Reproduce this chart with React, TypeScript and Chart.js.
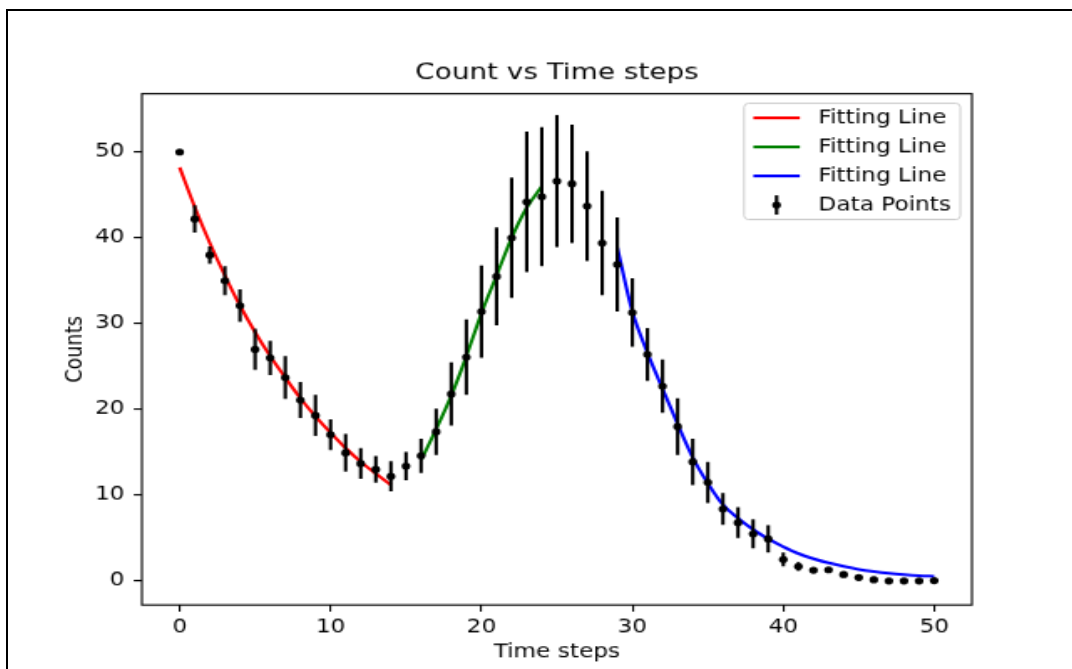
import React, { useEffect, useRef } from "react";
import { Chart, registerables } from "chart.js";

Chart.register(...registerables);

// ---------------- data ----------------
const timeSteps = [
  0, 1, 2, 3, 4, 5, 6, 7, 8, 9, 10, 11, 12, 13, 14, 15, 16, 17, 18, 19, 20,
  21, 22, 23, 24, 25, 26, 27, 28, 29, 30, 31, 32, 33, 34, 35, 36, 37, 38, 39,
  40, 41, 42, 43, 44, 45, 46, 47, 48, 49, 50,
];
const counts = [
  50.0, 42.2, 38.0, 35.0, 32.1, 27.0, 26.0, 23.7, 21.1, 19.3, 17.05, 14.95,
  13.7, 13.0, 12.2, 13.4, 14.6, 17.4, 21.8, 26.1, 31.4, 35.5, 40.0, 44.2, 44.8,
  46.6, 46.3, 43.7, 39.4, 36.9, 31.3, 26.4, 22.7, 18.0, 13.9, 11.5, 8.4, 6.8,
  5.5, 4.9, 2.5, 1.7, 1.25, 1.3, 0.75, 0.4, 0.15, 0.0, 0.0, 0.0, 0.05,
];
const countErrors = [
  0.3, 1.6, 1.0, 1.7, 1.9, 2.4, 2.0, 2.5, 2.1, 2.4, 1.8, 2.2, 1.8, 1.55, 1.75,
  1.65, 2.0, 2.7, 3.7, 4.4, 5.4, 5.7, 7.0, 8.2, 8.1, 7.7, 6.9, 6.4, 6.1, 5.5,
  4.0, 3.1, 3.1, 3.3, 2.7, 2.4, 1.85, 1.8, 1.7, 1.6, 0.8, 0.5, 0.3, 0.3, 0.2,
  0.1, 0, 0, 0, 0, 0,
];

const redFitX = [0, 1, 2, 3, 4, 5, 6, 7, 8, 9, 10, 11, 12, 13, 14];
const redFitY = [48.2, 43.6, 39.4, 35.6, 32.1, 29.0, 26.2, 23.7, 21.3, 19.2, 17.3, 15.5, 13.9, 12.5, 11.2];

const greenFitX = [16, 17, 18, 19, 20, 21, 22, 23, 24];
const greenFitY = [14.1, 17.7, 21.6, 26.2, 31.2, 35.6, 40.0, 43.5, 46.0];

const blueFitX = [29, 30, 31, 32, 33, 34, 35, 36, 37, 38, 39, 40, 41, 42, 43, 44, 45, 46, 47, 48, 49, 50];
const blueFitY = [38.9, 31.4, 26.6, 22.4, 18.3, 14.4, 11.4, 8.9, 7.3, 6.0, 4.9, 4.0, 3.2, 2.6, 2.1, 1.7, 1.35, 1.1, 0.9, 0.75, 0.63, 0.55];

const xTicks = [0, 10, 20, 30, 40, 50];
const yTicks = [0, 10, 20, 30, 40, 50];

const legendLabels = ["Fitting Line", "Fitting Line", "Fitting Line", "Data Points"];
const legendColors = ["#ff0000", "#008000", "#0000ff", "#000000"];

// ---------------- styling ----------------
const FONT = "'DejaVu Sans', 'Liberation Sans', sans-serif";
const PT = 100 / 72;
const FS = 10 * PT;
const TITLE_FS = 12 * PT;
const LW = 1.5 * PT;
const SPINE_LW = 0.8 * PT;
const POINTS_INDEX = 3;

const toXY = (xs: number[], ys: number[]) => xs.map((x, i) => ({ x, y: ys[i] }));

const errorBarPlugin = {
  id: "errorBars",
  beforeDatasetDraw(chart: any, args: any) {
    if (args.index !== POINTS_INDEX) return;
    const { ctx, chartArea: a } = chart;
    const xs = chart.scales.x;
    const ys = chart.scales.y;
    ctx.save();
    ctx.beginPath();
    ctx.rect(a.left, a.top, a.right - a.left, a.bottom - a.top);
    ctx.clip();
    ctx.strokeStyle = "#000";
    ctx.lineWidth = LW;
    ctx.beginPath();
    timeSteps.forEach((t, i) => {
      const e = countErrors[i];
      if (!e) return;
      const px = xs.getPixelForValue(t);
      ctx.moveTo(px, ys.getPixelForValue(counts[i] - e));
      ctx.lineTo(px, ys.getPixelForValue(counts[i] + e));
    });
    ctx.stroke();
    ctx.restore();
  },
};

const spinePlugin = {
  id: "spines",
  afterDatasetsDraw(chart: any) {
    const { ctx, chartArea: a } = chart;
    ctx.save();
    ctx.strokeStyle = "#000";
    ctx.lineWidth = SPINE_LW;
    ctx.strokeRect(a.left, a.top, a.right - a.left, a.bottom - a.top);
    ctx.restore();
  },
};

const legendPlugin = {
  id: "mplLegend",
  afterDraw(chart: any) {
    const { ctx, chartArea: a } = chart;
    ctx.save();
    ctx.font = `${FS}px ${FONT}`;
    const textW = Math.max(...legendLabels.map((l) => ctx.measureText(l).width));
    const pad = 0.4 * FS;
    const handleLen = 2 * FS;
    const handlePad = 0.8 * FS;
    const axPad = 0.5 * FS;
    const rowGap = 21;
    const firstRow = 10.5;
    const w = 2 * pad + handleLen + handlePad + textW;
    const h = firstRow * 2 + rowGap * (legendLabels.length - 1);
    const right = a.right - axPad;
    const left = right - w;
    const top = a.top + axPad;
    const r = 0.2 * FS;
    ctx.beginPath();
    ctx.moveTo(left + r, top);
    ctx.lineTo(right - r, top);
    ctx.quadraticCurveTo(right, top, right, top + r);
    ctx.lineTo(right, top + h - r);
    ctx.quadraticCurveTo(right, top + h, right - r, top + h);
    ctx.lineTo(left + r, top + h);
    ctx.quadraticCurveTo(left, top + h, left, top + h - r);
    ctx.lineTo(left, top + r);
    ctx.quadraticCurveTo(left, top, left + r, top);
    ctx.closePath();
    ctx.fillStyle = "rgba(255,255,255,0.8)";
    ctx.fill();
    ctx.strokeStyle = "#cccccc";
    ctx.lineWidth = 1;
    ctx.stroke();

    legendLabels.forEach((label, i) => {
      const cy = top + firstRow + i * rowGap;
      const hx = left + pad;
      if (i < 3) {
        ctx.strokeStyle = legendColors[i];
        ctx.lineWidth = LW;
        ctx.beginPath();
        ctx.moveTo(hx, cy);
        ctx.lineTo(hx + handleLen, cy);
        ctx.stroke();
      } else {
        const cx = hx + handleLen / 2;
        ctx.strokeStyle = "#000";
        ctx.lineWidth = LW;
        ctx.beginPath();
        ctx.moveTo(cx, cy - 7);
        ctx.lineTo(cx, cy + 7);
        ctx.stroke();
        ctx.fillStyle = "#000";
        ctx.beginPath();
        ctx.arc(cx, cy, 2.6, 0, Math.PI * 2);
        ctx.fill();
      }
      ctx.fillStyle = "#000";
      ctx.textAlign = "left";
      ctx.textBaseline = "middle";
      ctx.fillText(label, hx + handleLen + handlePad, cy);
    });
    ctx.restore();
  },
};

export default function App() {
  const canvasRef = useRef<HTMLCanvasElement | null>(null);

  useEffect(() => {
    if (!canvasRef.current) return;
    const tickFont = { family: FONT, size: FS };
    const gridCfg = {
      display: true,
      drawOnChartArea: false,
      drawTicks: true,
      tickLength: 3.5 * PT,
      tickWidth: SPINE_LW,
      tickColor: "#000",
      color: "#000",
      lineWidth: SPINE_LW,
    };
    const chart = new Chart(canvasRef.current, {
      type: "line",
      data: {
        datasets: [
          {
            label: "Fitting Line",
            data: toXY(redFitX, redFitY),
            borderColor: "#ff0000",
            borderWidth: LW,
            pointRadius: 0,
            cubicInterpolationMode: "monotone",
            order: 1,
          },
          {
            label: "Fitting Line",
            data: toXY(greenFitX, greenFitY),
            borderColor: "#008000",
            borderWidth: LW,
            pointRadius: 0,
            cubicInterpolationMode: "monotone",
            order: 1,
          },
          {
            label: "Fitting Line",
            data: toXY(blueFitX, blueFitY),
            borderColor: "#0000ff",
            borderWidth: LW,
            pointRadius: 0,
            cubicInterpolationMode: "monotone",
            order: 1,
          },
          {
            label: "Data Points",
            data: toXY(timeSteps, counts),
            showLine: false,
            pointRadius: 2.6,
            pointBorderWidth: 0,
            pointBackgroundColor: "#000",
            borderColor: "#000",
            order: 0,
          },
        ],
      },
      options: {
        animation: false,
        responsive: false,
        devicePixelRatio: 1,
        events: [],
        layout: { padding: { left: 0, right: 64, top: 0, bottom: 0 } },
        plugins: {
          legend: { display: false },
          tooltip: { enabled: false },
          title: {
            display: true,
            fullSize: false,
            text: "Count vs Time steps",
            color: "#000",
            font: { family: FONT, size: TITLE_FS, weight: "normal" },
            padding: { top: 32.8, bottom: 4.8 },
          },
        },
        scales: {
          x: {
            type: "linear",
            min: -2.5,
            max: 52.5,
            afterBuildTicks: (s: any) => {
              s.ticks = xTicks.map((v) => ({ value: v }));
            },
            afterFit: (s: any) => {
              s.height = 52.8;
            },
            ticks: { font: tickFont, color: "#000", padding: 3, maxRotation: 0 },
            grid: gridCfg,
            border: { display: false },
            title: {
              display: true,
              text: "Time steps",
              color: "#000",
              font: tickFont,
              padding: { top: 0, bottom: 10 },
            },
          },
          y: {
            type: "linear",
            min: -2.8,
            max: 56.8,
            afterBuildTicks: (s: any) => {
              s.ticks = yTicks.map((v) => ({ value: v }));
            },
            afterFit: (s: any) => {
              s.width = 80;
            },
            ticks: { font: tickFont, color: "#000", padding: 5.5 },
            grid: gridCfg,
            border: { display: false },
            title: {
              display: true,
              text: "Counts",
              color: "#000",
              font: tickFont,
              padding: { top: 32.2, bottom: 0 },
            },
          },
        },
      } as any,
      plugins: [errorBarPlugin, spinePlugin, legendPlugin],
    });
    return () => chart.destroy();
  }, []);

  return (
    <div
      style={{
        position: "fixed",
        left: 0,
        top: 0,
        width: 1072,
        height: 669,
        overflow: "hidden",
        background: "#fff",
      }}
    >
      <div
        style={{
          position: "absolute",
          left: 6,
          top: 9,
          width: 1100,
          height: 700,
          borderLeft: "2px solid #000",
          borderTop: "2px solid #000",
        }}
      />
      <canvas
        ref={canvasRef}
        width={640}
        height={480}
        style={{ position: "absolute", left: 8, top: 14, width: 1071, height: 664 }}
      />
    </div>
  );
}
